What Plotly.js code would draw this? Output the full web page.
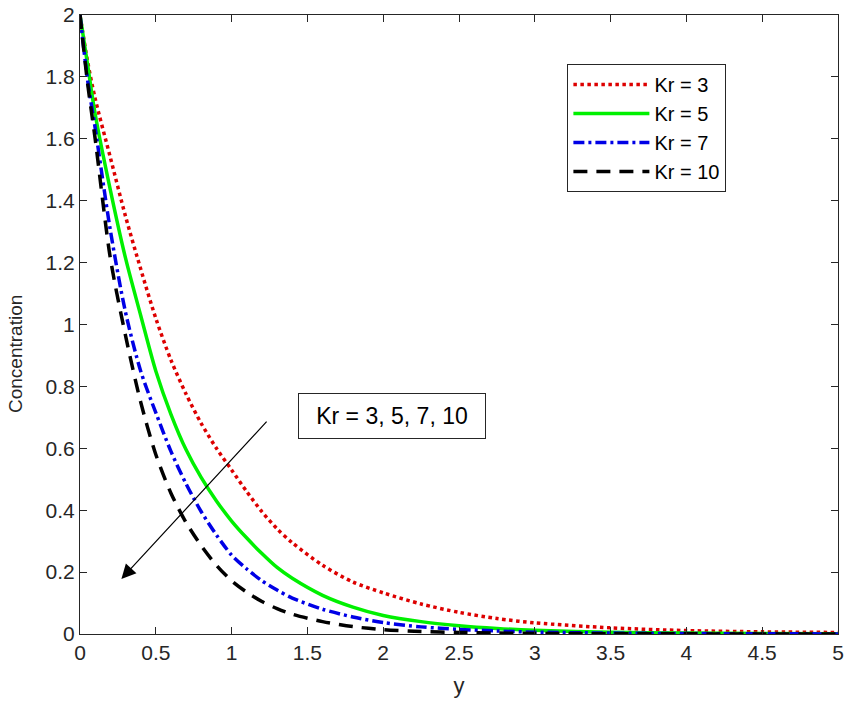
<!DOCTYPE html>
<html>
<head>
<meta charset="utf-8">
<script src="https://cdn.plot.ly/plotly-3.0.1.min.js"></script>
<style>
  html, body { margin: 0; padding: 0; background: #fff; }
  #grafico { width: 851px; height: 713px; }
</style>
</head>
<body>
<div id="grafico"></div>
<script>
// Perfiles de concentración, uno por valor de Kr.
const posY = [0, 0.05, 0.1, 0.2, 0.3, 0.4, 0.5, 0.6, 0.7, 0.8, 0.9, 1.0, 1.1, 1.2, 1.3, 1.4, 1.6, 1.8, 2.0, 2.25, 2.5, 2.75, 3.0, 3.5, 4.0, 4.5, 5.0];

const concKr3 = [2.0, 1.85, 1.73, 1.54, 1.35, 1.18, 1.02, 0.885, 0.775, 0.68, 0.6, 0.53, 0.46, 0.395, 0.34, 0.295, 0.222, 0.168, 0.133, 0.097, 0.07, 0.05, 0.036, 0.02, 0.011, 0.007, 0.005];
const concKr5 = [2.0, 1.84, 1.68, 1.435, 1.215, 1.03, 0.85, 0.71, 0.595, 0.505, 0.43, 0.365, 0.31, 0.26, 0.215, 0.18, 0.125, 0.087, 0.06, 0.04, 0.027, 0.018, 0.012, 0.006, 0.003, 0.002, 0.001];
const concKr7 = [2.0, 1.79, 1.635, 1.305, 1.04, 0.85, 0.715, 0.59, 0.485, 0.395, 0.32, 0.255, 0.21, 0.172, 0.142, 0.116, 0.08, 0.055, 0.037, 0.023, 0.015, 0.01, 0.006, 0.003, 0.0015, 0.0007, 0.0003];
const concKr10 = [2.0, 1.78, 1.6, 1.215, 0.965, 0.75, 0.58, 0.455, 0.36, 0.285, 0.222, 0.172, 0.135, 0.105, 0.082, 0.064, 0.04, 0.024, 0.014, 0.008, 0.005, 0.003, 0.002, 0.001, 0.0005, 0.0002, 0.0001];

const nombresSeries = ['Kr = 3', 'Kr = 5', 'Kr = 7', 'Kr = 10'];
const textoFlecha = 'Kr = 3, 5, 7, 10';
const tituloY = 'Concentration';

const ticksX = [0, 0.5, 1, 1.5, 2, 2.5, 3, 3.5, 4, 4.5, 5];
const ticksY = [0, 0.2, 0.4, 0.6, 0.8, 1, 1.2, 1.4, 1.6, 1.8, 2];

// estilo de línea por serie (mismo orden que nombresSeries)
const estilos = [
  { color: '#dd0000', dash: 'dot' },
  { color: '#00f000', dash: 'solid' },
  { color: '#0000e6', dash: '11px,4px,3px,4px' },
  { color: '#000000', dash: '14px,9px' },
];

const valores = [concKr3, concKr5, concKr7, concKr10];
const trazas = valores.map((serie, i) => ({
  type: 'scatter',
  mode: 'lines',
  name: nombresSeries[i],
  x: posY,
  y: serie,
  cliponaxis: false,
  line: { color: estilos[i].color, dash: estilos[i].dash, width: 3.5, shape: 'spline', smoothing: 0.8 },
}));

const ejeComun = {
  showline: true, mirror: 'ticks', linecolor: '#262626', linewidth: 1,
  ticks: 'inside', ticklen: 7, tickcolor: '#262626', tickwidth: 1,
  showgrid: false, zeroline: false,
  tickfont: { size: 21, color: '#262626' },
};

const layout = {
  width: 851, height: 713,
  margin: { l: 80, r: 13, t: 15, b: 79 },
  paper_bgcolor: '#ffffff', plot_bgcolor: '#ffffff',
  font: { family: '"Liberation Sans", Arial, sans-serif', color: '#262626' },
  showlegend: true,
  legend: {
    x: 0.643, y: 0.921, xanchor: 'left', yanchor: 'top',
    bgcolor: '#ffffff', bordercolor: '#262626', borderwidth: 1,
    font: { size: 20, color: '#000000' },
    itemwidth: 76,
  },
  xaxis: Object.assign({}, ejeComun, {
    range: [0, 5], tickvals: ticksX,
    title: { text: 'y', font: { size: 22, color: '#262626' }, standoff: 14 },
  }),
  yaxis: Object.assign({}, ejeComun, {
    range: [0, 2], tickvals: ticksY,
  }),
  annotations: [
    {
      // título del eje Y: en el original queda algo por debajo del centro del eje
      x: -0.086, y: 0.452, xref: 'paper', yref: 'paper', xanchor: 'center', yanchor: 'middle',
      text: tituloY, showarrow: false, textangle: -90,
      font: { size: 19, color: '#262626' },
    },
    {
      x: 0.273, y: 0.178, xref: 'x', yref: 'y',
      ax: 1.24, ay: 0.691, axref: 'x', ayref: 'y',
      text: '', showarrow: true, arrowhead: 2, arrowsize: 2.4, arrowwidth: 1.2, arrowcolor: '#000000',
    },
    {
      x: 2.06, y: 0.703, xref: 'x', yref: 'y',
      text: textoFlecha, showarrow: false,
      font: { size: 23, color: '#000000' },
      bgcolor: '#ffffff', bordercolor: '#262626', borderwidth: 1, borderpad: 4,
      width: 178, height: 36,
    },
  ],
};

Plotly.newPlot('grafico', trazas, layout, { displayModeBar: false, staticPlot: true });
</script>
</body>
</html>
